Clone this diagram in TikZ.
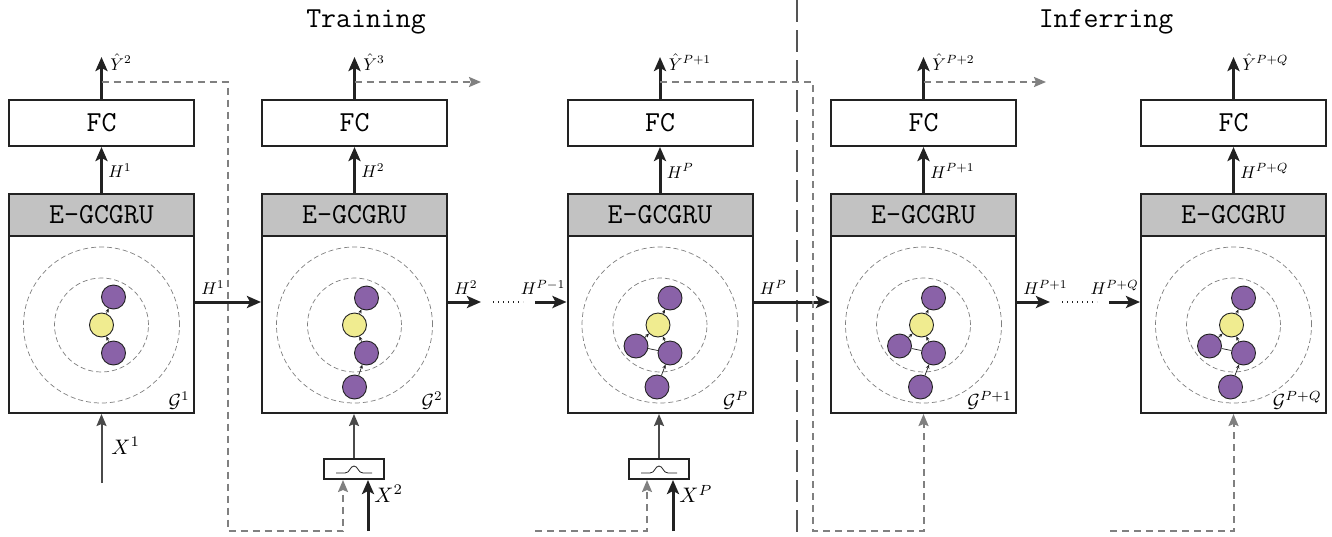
\documentclass[tikz,border=0pt]{standalone}
\usepackage{fontspec}
\usetikzlibrary{arrows.meta,calc}

\definecolor{purp}{HTML}{8A62A8}
\definecolor{yel}{HTML}{F0EC90}
\definecolor{hdr}{HTML}{C2C2C2}
\definecolor{ink}{HTML}{222222}
\definecolor{fb}{HTML}{808080}
\definecolor{sepc}{HTML}{555555}
\definecolor{inc}{HTML}{4A4A4A}

\tikzset{
  mono/.style={font=\fontsize{29}{32}\selectfont\ttfamily, inner sep=0pt},
  lbl/.style={font=\fontsize{10}{12}\selectfont, scale=1.7, transform shape, inner sep=0.6pt},
  xlbl/.style={font=\fontsize{10}{12}\selectfont, scale=2.1, transform shape, inner sep=0.5pt},
  glbl/.style={font=\fontsize{10}{12}\selectfont, scale=1.9, transform shape, inner sep=0.5pt},
  fcbox/.style={draw=ink, line width=2pt, fill=white, minimum width=185pt, minimum height=46pt, mono},
  hdrbox/.style={draw=ink, line width=2pt, fill=hdr, minimum width=185pt, minimum height=42pt, mono},
  cellbox/.style={draw=ink, line width=2pt, fill=white, minimum width=185pt, minimum height=177pt, inner sep=0pt},
  ring/.style={draw=gray, line width=0.7pt, dash pattern=on 5pt off 3pt},
  pnode/.style={circle, draw=ink, line width=0.9pt, fill=purp, minimum size=24pt, inner sep=0pt},
  ynode/.style={pnode, fill=yel},
  gedge/.style={draw=ink, line width=0.7pt, -{Stealth[length=4pt,width=3.5pt]}},
  gline/.style={draw=ink, line width=0.7pt},
  flow/.style={draw=ink, line width=3pt, -{Stealth[length=14pt,width=12pt,inset=3pt]}},
  inarr/.style={draw=inc, line width=2pt, -{Stealth[length=12pt,width=10pt,inset=2pt]}},
  feedarr/.style={draw=fb, line width=2pt, dash pattern=on 7pt off 5pt, -{Stealth[length=12pt,width=10pt,inset=2pt]}},
  sepline/.style={draw=sepc, line width=2pt, dash pattern=on 22pt off 8pt},
  filt/.style={draw=ink, line width=2pt, fill=white, minimum width=60pt, minimum height=20pt, inner sep=0pt},
  dots/.style={draw=ink, line width=1.4pt, dash pattern=on 1.4pt off 3.6pt},
}

% one recurrent cell: FC head, E-GCGRU header, graph panel with rings
\newcommand\cellblock[2]{%
  \node[fcbox] (#1fc) at (#2,123) {FC};
  \node[cellbox] (#1cell) at (#2,324.5) {};
  \node[hdrbox] (#1hd) at (#2,215) {E-GCGRU};
  \coordinate (#1c) at (#2,325);
  \draw[ring] (#1c) circle[radius=78pt];
  \draw[ring] (#1c) circle[radius=47pt];
  \draw[flow] (#1hd.north) -- (#1fc.south);
  \coordinate (#1yo) at (#2,57);
  \draw[flow] (#1fc.north) -- (#1yo);
}

% Gaussian filter box with a bell curve inside
\newcommand\filterbox[3]{%
  \node[filt] (#1) at (#2,#3) {};
  \begin{scope}[shift={(#1.center)}]
    \draw[ink, line width=0.8pt] (-18,4) -- (-9,4) .. controls (-4,4) and (-4,-3) .. (0,-3)
      .. controls (4,-3) and (4,4) .. (9,4) -- (18,4);
  \end{scope}
}

\begin{document}
\begin{tikzpicture}[x=1pt, y=-1pt]
\useasboundingbox (0,0) rectangle (1332,536);

% titles and the split between phases
\node[mono] (ttrain) at (366,22) {Training};
\node[mono] (tinf) at (1106,22) {Inferring};
\coordinate (septop) at (797,0);
\coordinate (sepbot) at (797,536);
\draw[sepline] (septop) -- (sepbot);

% cells
\cellblock{a}{101.5}
\cellblock{b}{354.5}
\cellblock{c}{660}
\cellblock{d}{923.5}
\cellblock{e}{1233.5}

% labels on the vertical arrows
\node[lbl, anchor=west] (aH) at (107,171) {$H^{1}$};
\node[lbl, anchor=west] (bH) at (360,171) {$H^{2}$};
\node[lbl, anchor=west] (cH) at (665.5,171) {$H^{P}$};
\node[lbl, anchor=west] (dH) at (929,171) {$H^{P+1}$};
\node[lbl, anchor=west] (eH) at (1239,171) {$H^{P+Q}$};
\node[lbl, anchor=west] (aY) at (109,62) {$\hat{Y}^{2}$};
\node[lbl, anchor=west] (bY) at (362,62) {$\hat{Y}^{3}$};
\node[lbl, anchor=west] (cY) at (667.5,62) {$\hat{Y}^{P+1}$};
\node[lbl, anchor=west] (dY) at (931,62) {$\hat{Y}^{P+2}$};
\node[lbl, anchor=west] (eY) at (1241,62) {$\hat{Y}^{P+Q}$};

% graph labels
\foreach \q/\s in {a/1, b/2, c/P, d/P+1, e/P+Q}{
  \node[glbl, anchor=south east] (\q G) at ($(\q cell.south east)+(-4,-3)$) {$\mathcal{G}^{\s}$};
}

% graph in cell 1
\node[ynode] (a0) at (ac) {};
\node[pnode] (a1) at ($(ac)+(12,-28)$) {};
\node[pnode] (a2) at ($(ac)+(12,28)$) {};
\draw[gedge] (a0) -- (a1);
\draw[gedge] (a2) -- (a0);

% graph in cell 2
\node[ynode] (b0) at (bc) {};
\node[pnode] (b1) at ($(bc)+(12,-27)$) {};
\node[pnode] (b2) at ($(bc)+(12,28)$) {};
\node[pnode] (b3) at ($(bc)+(0,62)$) {};
\draw[gedge] (b0) -- (b1);
\draw[gedge] (b2) -- (b0);
\draw[gedge] (b3) -- (b2);

% graphs in cells 3 to 5
\foreach \q in {c,d,e}{
  \node[ynode] (\q 0) at ($(\q c)+(-2,0)$) {};
  \node[pnode] (\q 1) at ($(\q c)+(10,-27)$) {};
  \node[pnode] (\q 2) at ($(\q c)+(-24,21)$) {};
  \node[pnode] (\q 3) at ($(\q c)+(10,28)$) {};
  \node[pnode] (\q 4) at ($(\q c)+(-3,62)$) {};
  \draw[gedge] (\q 0) -- (\q 1);
  \draw[gedge] (\q 2) -- (\q 0);
  \draw[gedge] (\q 3) -- (\q 0);
  \draw[gline] (\q 2) -- (\q 3);
  \draw[gedge] (\q 4) -- (\q 3);
}

% hidden state passed between cells
\coordinate (hy) at (0,302);
\draw[flow] (acell.east |- hy) -- (bcell.west |- hy);
\node[lbl, anchor=south west] (ah) at ($(acell.east |- hy)+(5,-6)$) {$H^{1}$};
\coordinate (bh) at (481,302);
\draw[flow] (bcell.east |- hy) -- (bh);
\node[lbl, anchor=south west] (bhl) at ($(bcell.east |- hy)+(5,-6)$) {$H^{2}$};
\coordinate (ch) at (535,302);
\draw[dots] ($(bh)+(12,0)$) -- ($(ch)+(-12,0)$);
\draw[flow] (ch) -- (ccell.west |- hy);
\node[lbl, anchor=south east] (chl) at ($(ccell.west |- hy)+(0,-6)$) {$H^{P-1}$};
\draw[flow] (ccell.east |- hy) -- (dcell.west |- hy);
\node[lbl, anchor=south west] (cdl) at ($(ccell.east |- hy)+(5,-6)$) {$H^{P}$};
\coordinate (dh) at (1050,302);
\draw[flow] (dcell.east |- hy) -- (dh);
\node[lbl, anchor=south west] (dhl) at ($(dcell.east |- hy)+(5,-6)$) {$H^{P+1}$};
\coordinate (eh) at (1109,302);
\draw[dots] ($(dh)+(12,0)$) -- ($(eh)+(-12,0)$);
\draw[flow] (eh) -- (ecell.west |- hy);
\node[lbl, anchor=south east] (ehl) at ($(ecell.west |- hy)+(0,-6)$) {$H^{P+Q}$};

% inputs
\coordinate (x1) at (101.5,483);
\draw[inarr] (x1) -- (acell.south);
\node[xlbl, anchor=west] (x1l) at (110,446) {$X^{1}$};

\filterbox{f2}{354}{469}
\draw[inarr] (f2.north) -- (f2.north |- bcell.south);
\coordinate (x2) at (368,531);
\draw[flow] (x2) -- (x2 |- f2.south);
\node[xlbl, anchor=west] (x2l) at (373,494) {$X^{2}$};

\filterbox{f3}{659}{469}
\draw[inarr] (f3.north) -- (f3.north |- ccell.south);
\coordinate (x3) at (673,531);
\draw[flow] (x3) -- (x3 |- f3.south);
\node[xlbl, anchor=west] (x3l) at (678,494) {$X^{P}$};

% predictions fed back as inputs
\coordinate (ak) at (101.5,82);
\coordinate (ad) at (228,531);
\draw[feedarr] (ak) -| (ad) -| ($(f2.south)+(-11,0)$);
\coordinate (bk) at (354.5,82);
\coordinate (be) at (481,82);
\draw[feedarr] (bk) -- (be);
\coordinate (cs) at (535,531);
\draw[feedarr] (cs) -| ($(f3.south)+(-12,0)$);
\coordinate (ck) at (660,82);
\coordinate (cd) at (813,531);
\draw[feedarr] (ck) -| (cd) -| (dcell.south);
\coordinate (dk) at (923.5,82);
\coordinate (de) at (1046,82);
\draw[feedarr] (dk) -- (de);
\coordinate (es) at (1110,531);
\draw[feedarr] (es) -| (ecell.south);

\end{tikzpicture}
\end{document}
